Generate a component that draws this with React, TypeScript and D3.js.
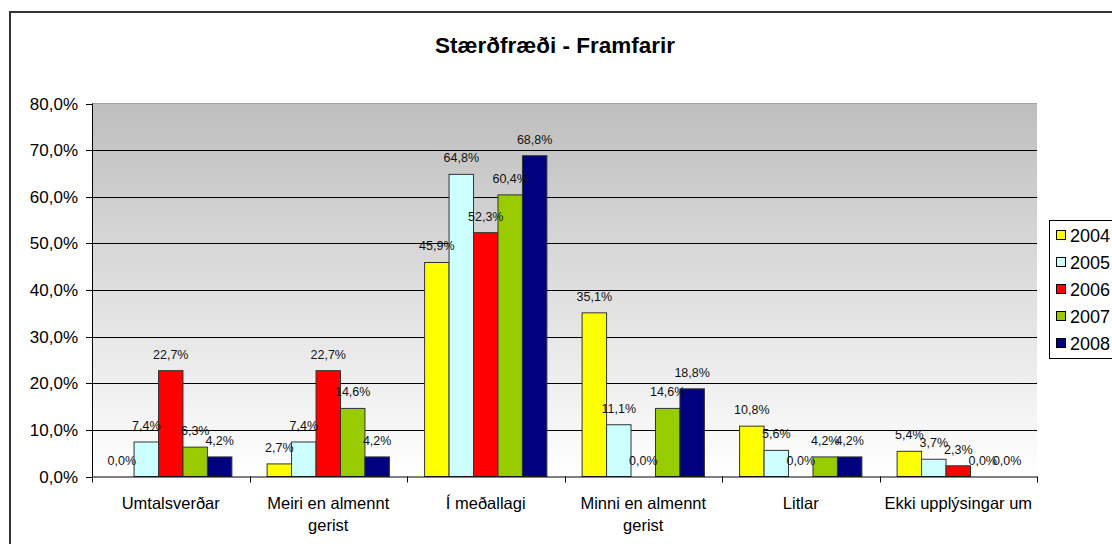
import React from "react";
import * as d3 from "d3";

const categories: string[] = [
  "Umtalsverðar",
  "Meiri en almennt\ngerist",
  "Í meðallagi",
  "Minni en almennt\ngerist",
  "Litlar",
  "Ekki upplýsingar um",
];

const seriesNames: string[] = ["2004", "2005", "2006", "2007", "2008"];
const seriesColors: string[] = ["#FFFF00", "#CCFFFF", "#FF0000", "#99CC00", "#000080"];

const v2004: number[] = [0.0, 2.7, 45.9, 35.1, 10.8, 5.4];
const v2005: number[] = [7.4, 7.4, 64.8, 11.1, 5.6, 3.7];
const v2006: number[] = [22.7, 22.7, 52.3, 0.0, 0.0, 2.3];
const v2007: number[] = [6.3, 14.6, 60.4, 14.6, 4.2, 0.0];
const v2008: number[] = [4.2, 4.2, 68.8, 18.8, 4.2, 0.0];
const seriesValues: number[][] = [v2004, v2005, v2006, v2007, v2008];

const yTicks: number[] = [0, 10, 20, 30, 40, 50, 60, 70, 80];

const title = "Stærðfræði - Framfarir";

const W = 1112;
const H = 544;
const plotLeft = 92;
const plotRight = 1037;
const plotTop = 103.5;
const plotBottom = 476.5;
const font = "'Liberation Sans', Arial, Helvetica, sans-serif";

const fmt = (v: number) => d3.format(".1f")(v).replace(".", ",") + "%";

export default function App() {
  const x0 = d3.scaleBand<string>().domain(categories).range([plotLeft, plotRight]).paddingInner(0).paddingOuter(0);
  const x1 = d3
    .scaleBand<string>()
    .domain(seriesNames)
    .range([0, x0.bandwidth()])
    .paddingInner(0)
    .paddingOuter(0.72);
  const y = d3.scaleLinear().domain([0, 80]).range([plotBottom, plotTop]);

  return (
    <svg
      width={W}
      height={H}
      style={{ position: "absolute", left: 0, top: 0, display: "block" }}
      fontFamily={font}
    >
      <defs>
        <linearGradient id="bg" x1="0" y1="0" x2="0" y2="1">
          <stop offset="0%" stopColor="#bebebe" />
          <stop offset="100%" stopColor="#ffffff" />
        </linearGradient>
      </defs>
      <rect x={0} y={0} width={W} height={H} fill="#ffffff" />
      {/* chart border */}
      <path d={`M10,${H + 5} L10,12 L${W + 5},12`} fill="none" stroke="#333" strokeWidth={2} />

      <text x={555} y={53} textAnchor="middle" fontSize={22.5} fontWeight="bold" fill="#000">
        {title}
      </text>

      {/* plot background */}
      <rect x={plotLeft} y={plotTop} width={plotRight - plotLeft} height={plotBottom - plotTop} fill="url(#bg)" />
      <line x1={plotLeft} x2={plotRight} y1={plotTop} y2={plotTop} stroke="#a0a0a0" strokeWidth={1} />

      {/* gridlines */}
      {yTicks.slice(1, -1).map((t) => (
        <line
          key={t}
          x1={plotLeft}
          x2={plotRight}
          y1={Math.round(y(t)) + 0.5}
          y2={Math.round(y(t)) + 0.5}
          stroke="#000"
          strokeWidth={1}
        />
      ))}

      {/* bars */}
      {categories.map((c, ci) =>
        seriesNames.map((s, si) => {
          const v = seriesValues[si][ci];
          const bx = (x0(c) as number) + (x1(s) as number);
          const by = y(v);
          return (
            <g key={c + s}>
              {v > 0 && (
                <rect
                  x={bx}
                  y={by}
                  width={x1.bandwidth()}
                  height={plotBottom - by}
                  fill={seriesColors[si]}
                  stroke="#333"
                  strokeWidth={1}
                />
              )}
            </g>
          );
        })
      )}

      {/* y axis */}
      <line x1={plotLeft + 0.5} x2={plotLeft + 0.5} y1={plotTop} y2={plotBottom} stroke="#000" />
      {yTicks.map((t) => (
        <g key={t}>
          <line x1={plotLeft - 6} x2={plotLeft} y1={Math.round(y(t)) + 0.5} y2={Math.round(y(t)) + 0.5} stroke="#000" />
          <text x={plotLeft - 14} y={y(t) + 6} textAnchor="end" fontSize={17} fill="#000">
            {fmt(t)}
          </text>
        </g>
      ))}

      {/* x axis */}
      <line x1={plotLeft} x2={plotRight} y1={plotBottom + 0.5} y2={plotBottom + 0.5} stroke="#000" />
      {categories.map((c) => (
        <line
          key={"t" + c}
          x1={Math.round(x0(c) as number) + 0.5}
          x2={Math.round(x0(c) as number) + 0.5}
          y1={plotBottom}
          y2={plotBottom + 6}
          stroke="#000"
        />
      ))}
      <line
        x1={plotRight + 0.5}
        x2={plotRight + 0.5}
        y1={plotBottom}
        y2={plotBottom + 6}
        stroke="#000"
      />
      {categories.map((c) => {
        const lines = c.split("\n");
        const cx = (x0(c) as number) + x0.bandwidth() / 2;
        return (
          <text key={"l" + c} x={cx} y={509} textAnchor="middle" fontSize={16.5} fill="#000">
            {lines.map((ln, i) => (
              <tspan key={i} x={cx} dy={i === 0 ? 0 : 21.5}>
                {ln}
              </tspan>
            ))}
          </text>
        );
      })}

      {/* data labels */}
      {categories.map((c, ci) =>
        seriesNames.map((s, si) => {
          const v = seriesValues[si][ci];
          const cx = (x0(c) as number) + (x1(s) as number) + x1.bandwidth() / 2;
          return (
            <text key={"d" + c + s} x={cx} y={y(v) - 12} textAnchor="middle" fontSize={12.5} fill="#111">
              {fmt(v)}
            </text>
          );
        })
      )}

      {/* legend */}
      <rect x={1049.5} y={220.5} width={80} height={138} fill="#fff" stroke="#000" strokeWidth={1} />
      {seriesNames.map((s, i) => (
        <g key={"lg" + s}>
          <rect x={1056.5} y={230.5 + i * 27} width={9} height={9} fill={seriesColors[i]} stroke="#000" strokeWidth={1} />
          <text x={1070} y={241.5 + i * 27} fontSize={18} fill="#000">
            {s}
          </text>
        </g>
      ))}
    </svg>
  );
}
